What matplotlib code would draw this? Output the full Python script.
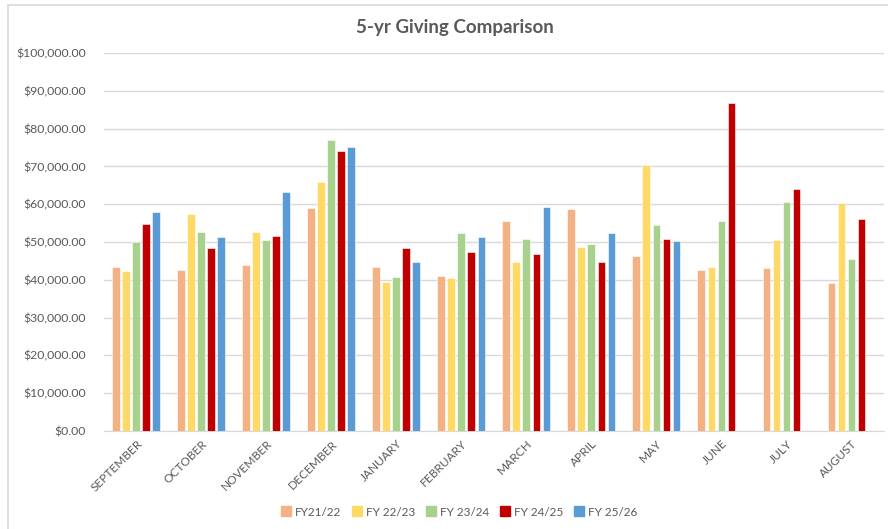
import matplotlib
matplotlib.use("Agg")
import matplotlib.pyplot as plt
import numpy as np
from matplotlib.lines import Line2D
from matplotlib.ticker import FuncFormatter

# valores
months = ["SEPTEMBER", "OCTOBER", "NOVEMBER", "DECEMBER", "JANUARY", "FEBRUARY",
          "MARCH", "APRIL", "MAY", "JUNE", "JULY", "AUGUST"]
series_names = ["FY21/22", "FY 22/23", "FY 23/24", "FY 24/25", "FY 25/26"]

fy2122 = [43400, 42700, 43800, 59100, 43400, 40900, 55500, 58800, 46300, 42700, 43100, 39200]
fy2223 = [42400, 57300, 52700, 65900, 39500, 40600, 44600, 48800, 70500, 43400, 50600, 60200]
fy2324 = [50100, 52700, 50600, 76900, 40800, 52300, 50900, 49500, 54500, 55500, 60500, 45600]
fy2425 = [54800, 48500, 51600, 74000, 48500, 47400, 46700, 44600, 50900, 86900, 64100, 56200]
fy2526 = [58000, 51300, 63300, 75100, 44800, 51300, 59200, 52300, 50200, None, None, None]

colors = ["#F4B183", "#FFD966", "#A9D18E", "#C00000", "#5B9BD5"]
all_series = [fy2122, fy2223, fy2324, fy2425, fy2526]
fonte = ["Lato", "DejaVu Sans"]

fig = plt.figure(figsize=(8.88, 5.29), dpi=100)
ax = fig.add_axes([0.117, 0.1853, 0.8785, 0.7145])

x = np.arange(len(months))
pitch = 0.154
width = 0.122
for i, (vals, col) in enumerate(zip(all_series, colors)):
    xs = [xi + (i - 2) * pitch for xi, v in zip(x, vals) if v is not None]
    vs = [v for v in vals if v is not None]
    ax.bar(xs, vs, width=width, color=col, edgecolor="white", linewidth=0.4, zorder=3)

ax.set_xlim(-0.5, len(months) - 0.5)
ax.set_ylim(0, 100000)
ax.set_yticks(np.arange(0, 100001, 10000))
ax.yaxis.set_major_formatter(FuncFormatter(lambda v, p: "${:,.2f}".format(v)))
ax.grid(axis="y", color="#D9D9D9", linewidth=1, zorder=0)
ax.set_axisbelow(True)

for s in ["top", "right", "left"]:
    ax.spines[s].set_visible(False)
ax.spines["bottom"].set_color("#D9D9D9")

ax.set_xticks(x)
ax.set_xticklabels(months, rotation=45, ha="right", va="top", rotation_mode="anchor",
                   fontsize=8.6, color="#595959", family=fonte)
ax.tick_params(axis="x", length=0, pad=5)
ax.tick_params(axis="y", length=0, labelsize=8.8, labelcolor="#595959", pad=13)
for lbl in ax.get_yticklabels():
    lbl.set_family(fonte)

fig.text(0.512, 0.948, "5-yr Giving Comparison", ha="center", va="center",
         fontsize=13.5, fontweight="bold", color="#595959", family=fonte)

handles = [Line2D([0], [0], marker="s", linestyle="", markersize=6.5,
                  markerfacecolor=c, markeredgecolor=c) for c in colors]
fig.legend(handles, series_names, loc="center", bbox_to_anchor=(0.515, 0.032), ncol=5,
           frameon=False, handletextpad=0.0, columnspacing=0.6, handlelength=1.5,
           labelcolor="#595959", prop={"family": fonte, "size": 8.5})

# borda leve do grafico
fig.add_artist(Line2D([0.009, 0.009], [0, 0.99], color="#D9D9D9", lw=1.2, transform=fig.transFigure))
fig.add_artist(Line2D([0.009, 1], [0.99, 0.99], color="#D9D9D9", lw=1.2, transform=fig.transFigure))

fig.savefig("out.png", dpi=100)
